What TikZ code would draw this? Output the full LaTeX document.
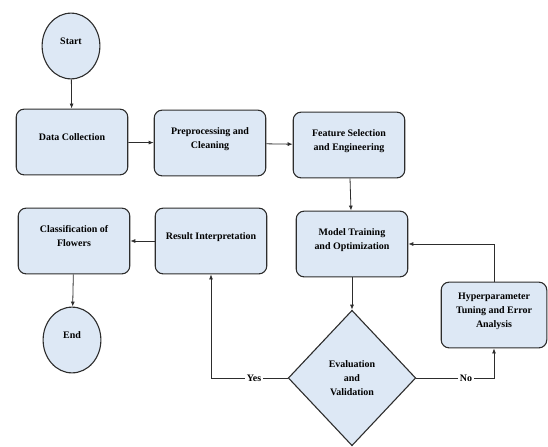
\documentclass[tikz,border=0pt]{standalone}
\usepackage{fontspec}
\setmainfont{Liberation Serif}
\usetikzlibrary{arrows.meta,shapes.geometric}

\definecolor{boxfill}{RGB}{221,232,245}
\definecolor{boxline}{RGB}{45,45,45}

\newcommand{\edgescl}{0.03528}
\newcommand{\coordscl}[1] {#1*\edgescl}
\newcommand{\bx}{\node[rectangle, rounded corners=8pt, draw=boxline, line width=1.1pt, fill=boxfill, minimum width=112pt, minimum height=66pt, align=center, text depth=10pt, font=\bfseries\fontsize{10}{14}\selectfont]}
\newcommand{\ov}{\node[ellipse, draw=boxline, line width=1.1pt, fill=boxfill, minimum width=58pt, minimum height=66pt, inner sep=0pt, text depth=10pt, font=\bfseries\fontsize{10}{14}\selectfont]}
\newcommand{\dm}{\node[diamond, draw=boxline, line width=1.1pt, fill=boxfill, minimum width=128pt, minimum height=136pt, inner sep=0pt, align=center, font=\bfseries\fontsize{10}{14}\selectfont]}
\newcommand{\lb}{\node[fill=white, inner sep=2pt, font=\bfseries\fontsize{10}{12}\selectfont]}

\begin{document}
\begin{tikzpicture}[>={Latex[length=5pt,width=4pt]}]
            \useasboundingbox (0,0) rectangle (\coordscl{548}, \coordscl{-446});

            \ov (start) at (\coordscl{71}, \coordscl{-46}) {Start};
            \bx (data) at (\coordscl{72}, \coordscl{-142}) {Data Collection};
            \bx (prep) at (\coordscl{210}, \coordscl{-143}) {Preprocessing and\\Cleaning};
            \bx (feat) at (\coordscl{349}, \coordscl{-145}) {Feature Selection\\and Engineering};
            \bx (model) at (\coordscl{352}, \coordscl{-244}) {Model Training\\and Optimization};
            \bx (result) at (\coordscl{211}, \coordscl{-241}) {Result Interpretation};
            \bx (class) at (\coordscl{74}, \coordscl{-241}) {Classification of\\Flowers};
            \ov (end) at (\coordscl{72}, \coordscl{-340}) {End};
            \bx[minimum width=106pt] (hyper) at (\coordscl{494}, \coordscl{-315}) {Hyperparameter\\Tuning and Error\\Analysis};
            \dm (eval) at (\coordscl{352}, \coordscl{-378}) {Evaluation\\and\\Validation};

            \lb (yes) at (\coordscl{254}, \coordscl{-378}) {Yes};
            \lb (no) at (\coordscl{466}, \coordscl{-378}) {No};

            \draw[->, boxline, line width=0.8pt]
                (start) -- (data);
            \draw[->, boxline, line width=0.8pt]
                (data) -- (prep);
            \draw[->, boxline, line width=0.8pt]
                (prep) -- (feat);
            \draw[->, boxline, line width=0.8pt]
                (feat) -- (model);
            \draw[->, boxline, line width=0.8pt]
                (model) -- (eval);
            \draw[->, boxline, line width=0.8pt]
                (result) -- (class);
            \draw[->, boxline, line width=0.8pt]
                (class) -- (end);

            \draw[boxline, line width=0.8pt]
                (eval.west) -- (yes.east)
                (eval.east) -- (no.west)
                ;
            \draw[->, boxline, line width=0.8pt]
                (yes.west) -| (result.south);
            \draw[->, boxline, line width=0.8pt]
                (no.east) -| (hyper.south);
            \draw[->, boxline, line width=0.8pt]
                (hyper.north) |- (model.east);
        \end{tikzpicture}
\end{document}
